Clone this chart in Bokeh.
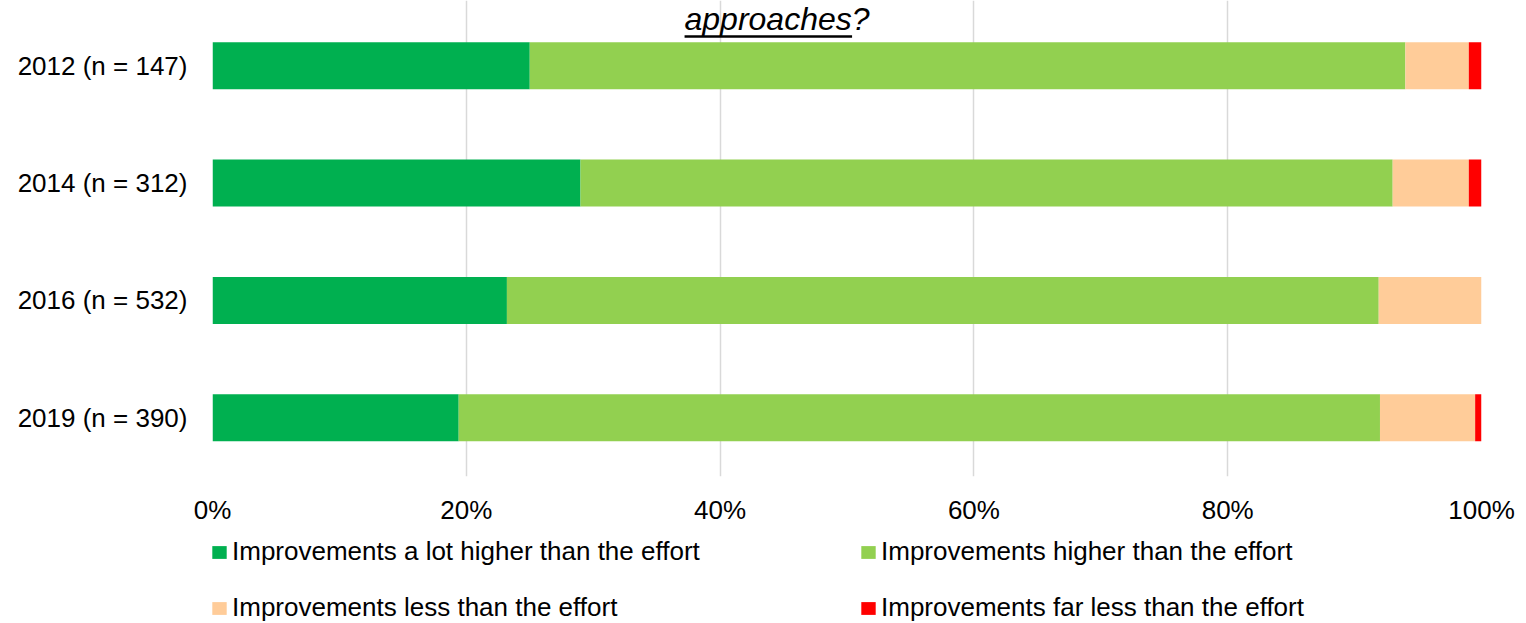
from bokeh.plotting import figure
from bokeh.layouts import column
from bokeh.models import ColumnDataSource, Range1d, FixedTicker, Legend, LegendItem, Label
from bokeh.embed import file_html
from bokeh.resources import INLINE

# ---- data ----
categories = ["2012 (n = 147)", "2014 (n = 312)", "2016 (n = 532)", "2019 (n = 390)"]
a_lot_higher = [25.0, 29.0, 23.2, 19.4]
higher = [69.0, 64.0, 68.7, 72.6]
less = [5.0, 6.0, 8.1, 7.5]
far_less = [1.0, 1.0, 0.0, 0.5]
series_names = [
    "Improvements a lot higher than the effort",
    "Improvements higher than the effort",
    "Improvements less than the effort",
    "Improvements far less than the effort",
]
colors = ["#00B050", "#92D050", "#FFCC99", "#FF0000"]
x_ticks = [0, 20, 40, 60, 80, 100]
x_tick_labels = ["0%", "20%", "40%", "60%", "80%", "100%"]
title_text = "approaches?"

FONT = "Liberation Sans"
ypos = list(range(len(categories) - 1, -1, -1))
stackers = ["s0", "s1", "s2", "s3"]

src = ColumnDataSource(dict(y=ypos, s0=a_lot_higher, s1=higher, s2=less, s3=far_less))

# ---------------- main chart ----------------
Y_TOP = 3.555
p = figure(width=1526, height=530, output_backend="svg", toolbar_location=None,
           title=None, x_range=Range1d(0, 100), y_range=Range1d(-0.5, Y_TOP),
           min_border_left=212, min_border_right=45, min_border_top=0, min_border_bottom=54)
p.outline_line_color = None
p.background_fill_color = "white"
p.border_fill_color = "white"

p.hbar_stack(stackers, y="y", height=0.4, color=colors, line_color=None, source=src)

p.xaxis.ticker = FixedTicker(ticks=x_ticks)
p.xaxis.major_label_overrides = {t: l for t, l in zip(x_ticks, x_tick_labels)}
p.yaxis.ticker = FixedTicker(ticks=ypos)
p.yaxis.major_label_overrides = {y: c for y, c in zip(ypos, categories)}
for ax in (p.xaxis[0], p.yaxis[0]):
    ax.axis_line_color = None
    ax.major_tick_line_color = None
    ax.minor_tick_line_color = None
    ax.major_tick_out = 0
    ax.major_tick_in = 0
    ax.major_label_text_font = FONT
    ax.major_label_text_font_size = "26px"
    ax.major_label_text_color = "#000000"
p.xaxis.major_label_standoff = 18
p.yaxis.major_label_standoff = 25

p.xgrid.ticker = FixedTicker(ticks=x_ticks)
p.xgrid.grid_line_color = "#D9D9D9"
p.xgrid.grid_line_width = 1.5
p.ygrid.visible = False

# title fragment (last line of a longer title), underlined word
p.add_layout(Label(x=472, y=476 - 18, x_units="screen", y_units="screen", text=title_text,
                   text_font=FONT, text_font_style="italic", text_font_size="32px",
                   text_color="#000000", text_baseline="middle", text_align="left"))
p.segment(x0=[37.2], x1=[50.4], y0=[Y_TOP - 36 / 117.4], y1=[Y_TOP - 36 / 117.4],
          line_color="black", line_width=2.5)

# ---------------- legend strip ----------------
lg = figure(width=1526, height=93, output_backend="svg", toolbar_location=None,
            title=None, x_range=Range1d(0, 100), y_range=Range1d(10, 11),
            x_axis_location=None, y_axis_location=None,
            min_border_left=0, min_border_right=0, min_border_top=0, min_border_bottom=0)
lg.outline_line_color = None
lg.xgrid.visible = False
lg.ygrid.visible = False
lg.background_fill_color = "white"
lg.border_fill_color = "white"
# same stacked bars (outside this strip's visible range) supply the legend swatches
proxies = lg.hbar_stack(stackers, y="y", height=0.4, color=colors, line_color=None, source=src)

rows = [((0, 1), 56), ((2, 3), 0)]
for idx, vy in rows:
    leg = Legend(items=[LegendItem(label=series_names[k], renderers=[proxies[k]]) for k in idx],
                 orientation="horizontal", location=(-2, vy),
                 padding=0, margin=0, spacing=67, border_line_color=None,
                 background_fill_alpha=0, glyph_width=18, glyph_height=16,
                 label_standoff=4, label_width=560, label_height=29,
                 label_text_font=FONT, label_text_font_size="26px",
                 label_text_color="#000000")
    lg.add_layout(leg)

layout = column(p, lg, spacing=0)
open("out.html", "w").write(file_html(layout, INLINE))
